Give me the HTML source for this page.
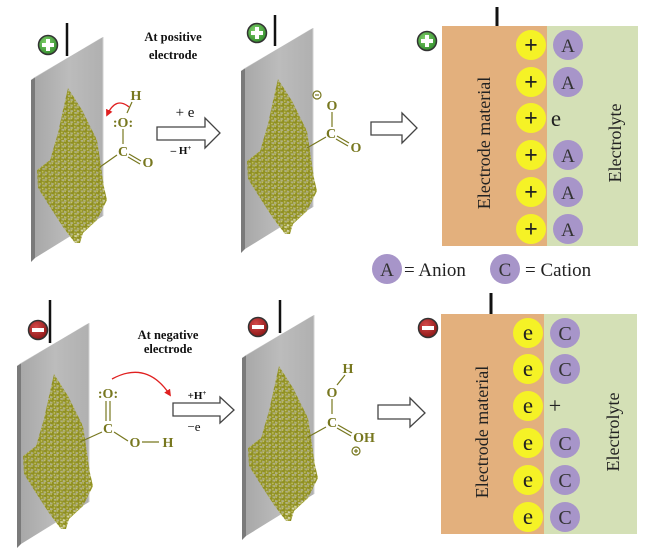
<!DOCTYPE html>
<html><head><meta charset="utf-8"><style>
html,body{margin:0;padding:0;background:#fff;}
svg{display:block;}
text{font-family:"Liberation Serif",serif;}
</style></head><body>
<svg width="656" height="559" viewBox="0 0 656 559" xmlns="http://www.w3.org/2000/svg">
<defs>
  <linearGradient id="pl" x1="0" y1="0" x2="1" y2="0">
    <stop offset="0" stop-color="#a8a8a8"/>
    <stop offset="0.5" stop-color="#bcbcbc"/>
    <stop offset="1" stop-color="#b0b0b0"/>
  </linearGradient>
  <radialGradient id="gp" cx="0.4" cy="0.35" r="0.7">
    <stop offset="0" stop-color="#7fd06a"/><stop offset="1" stop-color="#2f8a2a"/>
  </radialGradient>
  <radialGradient id="rm" cx="0.4" cy="0.35" r="0.7">
    <stop offset="0" stop-color="#d44a4a"/><stop offset="1" stop-color="#8a1414"/>
  </radialGradient>
  <pattern id="dots" width="6.4" height="5.6" patternUnits="userSpaceOnUse">
    <rect width="6.4" height="5.6" fill="#a8a850" opacity="0.5"/>
    <circle cx="1.6" cy="1.4" r="2.4" fill="#8f8f20"/>
    <circle cx="4.8" cy="4.2" r="2.4" fill="#949424"/>
    <circle cx="1.1" cy="0.9" r="0.8" fill="#c8c870"/>
    <circle cx="4.3" cy="3.7" r="0.8" fill="#c8c870"/>
  </pattern>
  <marker id="ra" viewBox="0 0 8 8" refX="6" refY="4" markerWidth="7" markerHeight="7" markerUnits="userSpaceOnUse" orient="auto">
    <path d="M0,0 L8,4 L0,8 z" fill="#e02020"/>
  </marker>
  <g id="plate">
    <polygon points="31,80 35,77 35,258 31,262" fill="#7a7a7a"/>
    <polygon points="35,77 103,37 103,216 35,258" fill="url(#pl)"/>
    <polygon points="31,80 99,39 103,37 35,77" fill="#d6d6d6"/>
    <line x1="103" y1="37" x2="103" y2="216" stroke="#d0d0d0" stroke-width="1"/>
    <polygon points="68,88 82,110 97,140 100,160 104,187 107,200 97,220 83,233 80,243 75,243 63,227 50,207 38,188 37,170 50,160 58,133 63,110" fill="url(#dots)"/>
  </g>
</defs>

<!-- plates -->
<use href="#plate"/>
<line x1="67" y1="23" x2="67" y2="56" stroke="#111" stroke-width="2.5"/>
<use href="#plate" transform="translate(210,-9)"/>
<line x1="275" y1="15" x2="275" y2="46" stroke="#111" stroke-width="2.5"/>
<use href="#plate" transform="translate(-14,286)"/>
<line x1="50" y1="300" x2="50" y2="343" stroke="#111" stroke-width="2.5"/>
<use href="#plate" transform="translate(211,278)"/>
<line x1="280" y1="300" x2="280" y2="333" stroke="#111" stroke-width="2.5"/>

<!-- plus/minus icons -->
<g stroke="#333" stroke-width="1.5">
  <circle cx="48" cy="45" r="9.5" fill="url(#gp)"/>
  <circle cx="257" cy="33" r="9.5" fill="url(#gp)"/>
  <circle cx="427" cy="41" r="9.5" fill="url(#gp)"/>
  <circle cx="38" cy="330" r="9.5" fill="url(#rm)"/>
  <circle cx="258" cy="327" r="9.5" fill="url(#rm)"/>
  <circle cx="428" cy="328" r="9.5" fill="url(#rm)"/>
</g>
<g fill="#fff">
  <rect x="42" y="43" width="12" height="4"/><rect x="46" y="39" width="4" height="12"/>
  <rect x="251" y="31" width="12" height="4"/><rect x="255" y="27" width="4" height="12"/>
  <rect x="421" y="39" width="12" height="4"/><rect x="425" y="35" width="4" height="12"/>
  <rect x="32" y="328" width="12" height="4"/>
  <rect x="252" y="325" width="12" height="4"/>
  <rect x="422" y="326" width="12" height="4"/>
</g>

<!-- headings -->
<g font-weight="bold" font-size="12.5" fill="#111" text-anchor="middle">
  <text x="173" y="41">At positive</text>
  <text x="173" y="59">electrode</text>
  <text x="168" y="339">At negative</text>
  <text x="168" y="353">electrode</text>
</g>

<!-- hollow arrows -->
<g fill="#fff" stroke="#444" stroke-width="1.3" stroke-linejoin="miter">
  <polygon points="157,127 205,127 205,118 220,133 205,148 205,140 157,140"/>
  <polygon points="371,122 402,122 402,113 417,128 402,143 402,135 371,135"/>
  <polygon points="173,403 220,403 220,397 234,410 220,423 220,416 173,416"/>
  <polygon points="378,405 410,405 410,398 425,413 410,427 410,419 378,419"/>
</g>
<text x="185" y="117" font-size="15" text-anchor="middle" fill="#111">+ e</text>
<text x="181" y="154" font-size="11" font-weight="bold" text-anchor="middle" fill="#111">– H<tspan font-size="7" dy="-4">+</tspan></text>
<text x="197" y="399" font-size="11" font-weight="bold" text-anchor="middle" fill="#111">+H<tspan font-size="7" dy="-4">+</tspan></text>
<text x="194" y="431" font-size="13" text-anchor="middle" fill="#111">−e</text>

<!-- chemistry -->
<g fill="#77771f" font-weight="bold" font-size="14" text-anchor="middle">
  <text x="136" y="100">H</text>
  <text x="123" y="127">:O:</text>
  <text x="123" y="156">C</text>
  <text x="148" y="167">O</text>
  <text x="332" y="110">O</text>
  <text x="331" y="138">C</text>
  <text x="356" y="152">O</text>
  <text x="108" y="398">:O:</text>
  <text x="108" y="433">C</text>
  <text x="135" y="447">O</text>
  <text x="168" y="447">H</text>
  <text x="348" y="373">H</text>
  <text x="332" y="397">O</text>
  <text x="332" y="427">C</text>
  <text x="364" y="442">OH</text>
</g>
<g stroke="#77771f" stroke-width="1.2" fill="none">
  <line x1="132" y1="102" x2="127" y2="113"/>
  <line x1="123" y1="129" x2="123" y2="144"/>
  <line x1="129" y1="154" x2="141" y2="161"/>
  <line x1="128" y1="157" x2="140" y2="164"/>
  <line x1="117" y1="155" x2="100" y2="167"/>

  <line x1="332" y1="112" x2="332" y2="127"/>
  <line x1="337" y1="136" x2="349" y2="143"/>
  <line x1="336" y1="139" x2="348" y2="146"/>
  <line x1="326" y1="137" x2="307" y2="148"/>
  <circle cx="317" cy="95" r="4"/>
  <line x1="315" y1="95" x2="319" y2="95"/>

  <line x1="106" y1="401" x2="106" y2="421"/>
  <line x1="110" y1="401" x2="110" y2="421"/>
  <line x1="114" y1="432" x2="128" y2="441"/>
  <line x1="142" y1="442" x2="159" y2="442"/>
  <line x1="102" y1="432" x2="80" y2="442"/>

  <line x1="345" y1="375" x2="337" y2="385"/>
  <line x1="332" y1="399" x2="332" y2="414"/>
  <line x1="338" y1="425" x2="352" y2="433"/>
  <line x1="337" y1="428" x2="351" y2="436"/>
  <line x1="326" y1="427" x2="308" y2="437"/>
  <circle cx="356" cy="451" r="4"/>
  <line x1="354" y1="451" x2="358" y2="451"/>
  <line x1="356" y1="449" x2="356" y2="453"/>
</g>

<!-- red curved arrows -->
<g stroke="#e02020" stroke-width="1.3" fill="none" marker-end="url(#ra)">
  <path d="M129,107 Q116,96 107,115"/>
  <path d="M112,379 Q147,360 170,395"/>
  <path d="M553,108 Q545,96 531,107"/>
  <path d="M530,398 Q544,390 549,402"/>
</g>

<!-- top-right panel -->
<line x1="497" y1="7" x2="497" y2="26" stroke="#111" stroke-width="3"/>
<rect x="442" y="26" width="105" height="220" fill="#e3b07d"/>
<rect x="547" y="26" width="91" height="220" fill="#d4e0b6"/>
<g fill="#f5f226">
  <circle cx="531" cy="45" r="15"/><circle cx="531" cy="82" r="15"/><circle cx="531" cy="118" r="15"/>
  <circle cx="531" cy="155" r="15"/><circle cx="531" cy="192" r="15"/><circle cx="531" cy="229" r="15"/>
</g>
<g fill="#a795c9">
  <circle cx="568" cy="45" r="15"/><circle cx="568" cy="82" r="15"/>
  <circle cx="568" cy="155" r="15"/><circle cx="568" cy="192" r="15"/><circle cx="568" cy="229" r="15"/>
</g>
<g font-size="24" font-weight="bold" fill="#222" text-anchor="middle">
  <text x="531" y="53">+</text><text x="531" y="90">+</text><text x="531" y="126">+</text>
  <text x="531" y="163">+</text><text x="531" y="200">+</text><text x="531" y="237">+</text>
</g>
<g font-size="19" fill="#333" text-anchor="middle">
  <text x="568" y="52">A</text><text x="568" y="89">A</text>
  <text x="568" y="162">A</text><text x="568" y="199">A</text><text x="568" y="236">A</text>
</g>
<text x="556" y="126" font-size="23" fill="#222" text-anchor="middle">e</text>
<text transform="translate(490,143) rotate(-90)" font-size="18" fill="#222" text-anchor="middle">Electrode material</text>
<text transform="translate(621,143) rotate(-90)" font-size="18" fill="#222" text-anchor="middle">Electrolyte</text>

<!-- legend -->
<circle cx="387" cy="269" r="15" fill="#a795c9"/>
<text x="387" y="276" font-size="19" fill="#333" text-anchor="middle">A</text>
<text x="404" y="276" font-size="19" fill="#222">= Anion</text>
<circle cx="505" cy="269" r="15" fill="#a795c9"/>
<text x="505" y="276" font-size="19" fill="#333" text-anchor="middle">C</text>
<text x="525" y="276" font-size="19" fill="#222">= Cation</text>

<!-- bottom-right panel -->
<line x1="491" y1="293" x2="491" y2="314" stroke="#111" stroke-width="3"/>
<rect x="441" y="314" width="103" height="220" fill="#e3b07d"/>
<rect x="544" y="314" width="93" height="220" fill="#d4e0b6"/>
<g fill="#f5f226">
  <circle cx="528" cy="333" r="15"/><circle cx="528" cy="369" r="15"/><circle cx="528" cy="406" r="15"/>
  <circle cx="528" cy="443" r="15"/><circle cx="528" cy="480" r="15"/><circle cx="528" cy="517" r="15"/>
</g>
<g fill="#a795c9">
  <circle cx="565" cy="333" r="15"/><circle cx="565" cy="369" r="15"/>
  <circle cx="565" cy="443" r="15"/><circle cx="565" cy="480" r="15"/><circle cx="565" cy="517" r="15"/>
</g>
<g font-size="23" fill="#222" text-anchor="middle">
  <text x="528" y="340">e</text><text x="528" y="376">e</text><text x="528" y="413">e</text>
  <text x="528" y="450">e</text><text x="528" y="487">e</text><text x="528" y="524">e</text>
</g>
<g font-size="20" fill="#333" text-anchor="middle">
  <text x="565" y="340">C</text><text x="565" y="376">C</text>
  <text x="565" y="450">C</text><text x="565" y="487">C</text><text x="565" y="524">C</text>
</g>
<text x="555" y="413" font-size="22" fill="#222" text-anchor="middle">+</text>
<text transform="translate(488,432) rotate(-90)" font-size="18" fill="#222" text-anchor="middle">Electrode material</text>
<text transform="translate(619,432) rotate(-90)" font-size="18" fill="#222" text-anchor="middle">Electrolyte</text>
</svg>
</body></html>
